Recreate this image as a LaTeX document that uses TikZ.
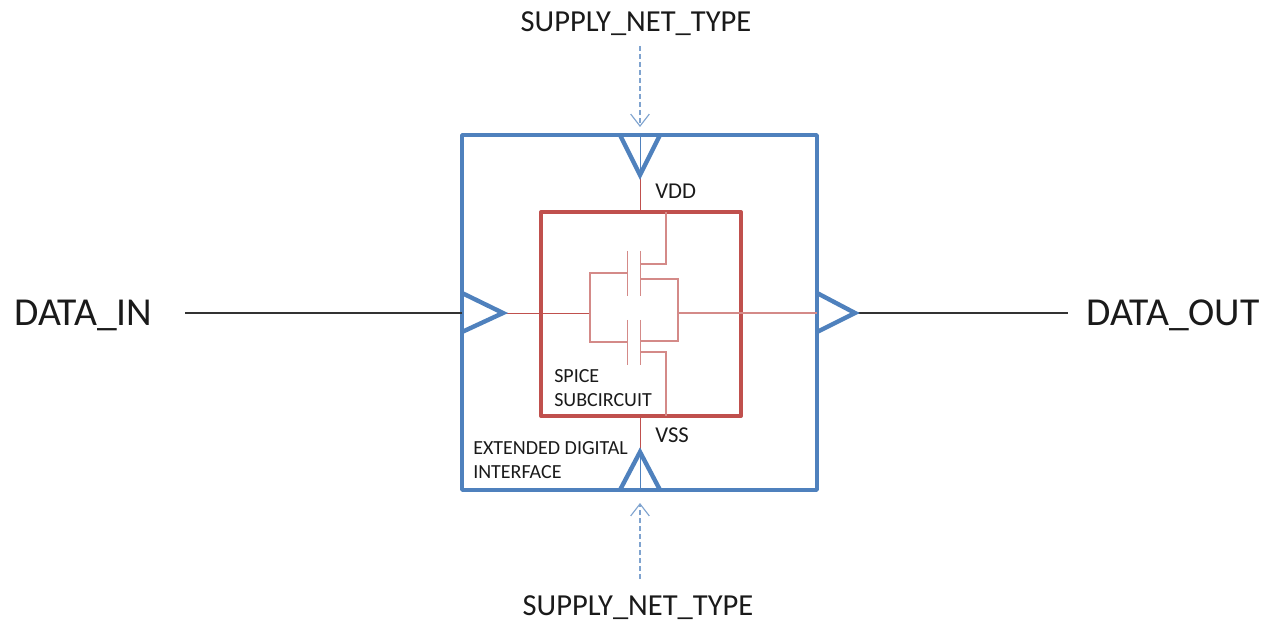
\documentclass[tikz,border=0pt]{standalone}
\usepackage{fontspec}
\setmainfont{Carlito}
\usetikzlibrary{arrows.meta}
\definecolor{bluec}{HTML}{4F81BD}
\definecolor{bluel}{HTML}{7FA3CF}
\definecolor{redc}{HTML}{C0504D}
\definecolor{redl}{HTML}{D48A88}
\definecolor{txt}{HTML}{1A1A1A}
\tikzset{
  x=0.75pt,y=-0.75pt,
  box/.style={draw,rectangle,inner sep=0pt,outer sep=0pt,line join=round},
  outerbox/.style={box,draw=bluec,line width=2.7pt,minimum width=266.25pt,minimum height=266.25pt},
  innerbox/.style={box,draw=redc,line width=3pt,minimum width=150pt,minimum height=153pt},
  port/.style={draw=bluec,line width=3.3pt,line join=miter,line cap=butt},
  wire/.style={draw=redc,line width=0.7pt},
  fet/.style={draw=redl,line width=0.85pt},
  plate/.style={draw=redl,line width=1pt},
  sig/.style={draw=black!80,line width=0.9pt},
  thinblue/.style={draw=bluec,line width=0.7pt},
  supply/.style={draw=bluel,line width=0.85pt,dash pattern=on 3.5pt off 2.5pt,-{Straight Barb[length=9pt,width=14pt,line width=0.85pt]}},
  big/.style={font=\fontsize{29.7pt}{34pt}\selectfont,text=txt,inner sep=0pt,anchor=west},
  mid/.style={font=\fontsize{22.9pt}{27pt}\selectfont,text=txt,inner sep=0pt},
  small/.style={font=\fontsize{17pt}{20pt}\selectfont,text=txt,inner sep=0pt,anchor=west},
  tiny/.style={font=\fontsize{15pt}{18pt}\selectfont,text=txt,inner sep=0pt,anchor=west},
}
\begin{document}
\begin{tikzpicture}
\useasboundingbox (0,0) rectangle (1264,623);
% boxes
\node[outerbox] (ext) at (639.5,312.5) {};
\node[innerbox] (sub) at (641,314) {};
% port tips and coordinates
\coordinate (topTip) at (640,175);
\coordinate (topA) at (620,135);
\coordinate (topB) at (660,135);
\coordinate (topBase) at (640,135);
\coordinate (botTip) at (640,452);
\coordinate (botA) at (620,490);
\coordinate (botB) at (660,490);
\coordinate (botBase) at (640,490);
\coordinate (inTip) at (503,313);
\coordinate (inA) at (462,293);
\coordinate (inB) at (462,332);
\coordinate (inBase) at (462,313);
\coordinate (outTip) at (855,313);
\coordinate (outA) at (817,293);
\coordinate (outB) at (817,332);
\coordinate (outBase) at (817,313);
\coordinate (subTop) at (640,212);
\coordinate (subBot) at (640,416);
\coordinate (supTopStart) at (640,46);
\coordinate (supTopEnd) at (640,127);
\coordinate (supBotStart) at (640,579);
\coordinate (supBotEnd) at (640,503);
% labels
\node[big] (din) at (14,315) {DATA\_IN};
\node[big] (dout) at (1086,315) {DATA\_OUT};
\node[mid] (suptop) at (636,24) {SUPPLY\_NET\_TYPE};
\node[mid] (supbot) at (638,608) {SUPPLY\_NET\_TYPE};
\node[small] (vdd) at (655,191) {VDD};
\node[small] (vss) at (655,435) {VSS};
\node[tiny] (spice) at (554,376) {SPICE};
\node[tiny] (subc) at (554,400) {SUBCIRCUIT};
\node[tiny] (extd) at (473,448) {EXTENDED DIGITAL};
\node[tiny] (intf) at (473,472) {INTERFACE};
% signal lines
\coordinate (dinEnd) at (185,313);
\coordinate (doutEnd) at (1068,313);
\draw[sig] (dinEnd) -- (inBase);
\draw[sig] (outTip) -- (doutEnd);
% inside wires
\coordinate (gateJ) at (590,313);
\coordinate (outJ) at (678,313);
\draw[wire] (inTip) -- (gateJ);
\draw[fet] (outJ) -- (outBase);
\draw[wire] (topTip) -- (subTop);
\draw[wire] (subBot) -- (botTip);
\draw[thinblue] (topBase) -- (topTip);
\draw[thinblue] (botBase) -- (botTip);
% transistors
\draw[plate] (627.3,251) -- (627.3,296);
\draw[plate] (640.3,251) -- (640.3,296);
\draw[plate] (627.3,320) -- (627.3,365);
\draw[plate] (640.3,320) -- (640.3,365);
\draw[fet] (640.3,264) -| (666,212);
\draw[fet] (640.3,279) -| (678,341) -- (640.3,341);
\draw[fet] (640.3,352) -| (666,416);
\draw[fet] (627.3,273) -| (590,342) -- (627.3,342);
% ports
\draw[port] (topA) -- (topTip) -- (topB);
\draw[port] (botA) -- (botTip) -- (botB);
\draw[port] (inA) -- (inTip) -- (inB);
\draw[port] (outA) -- (outTip) -- (outB);
% supply arrows
\draw[supply] (supTopStart) -- (supTopEnd);
\draw[supply] (supBotStart) -- (supBotEnd);
\end{tikzpicture}
\end{document}
